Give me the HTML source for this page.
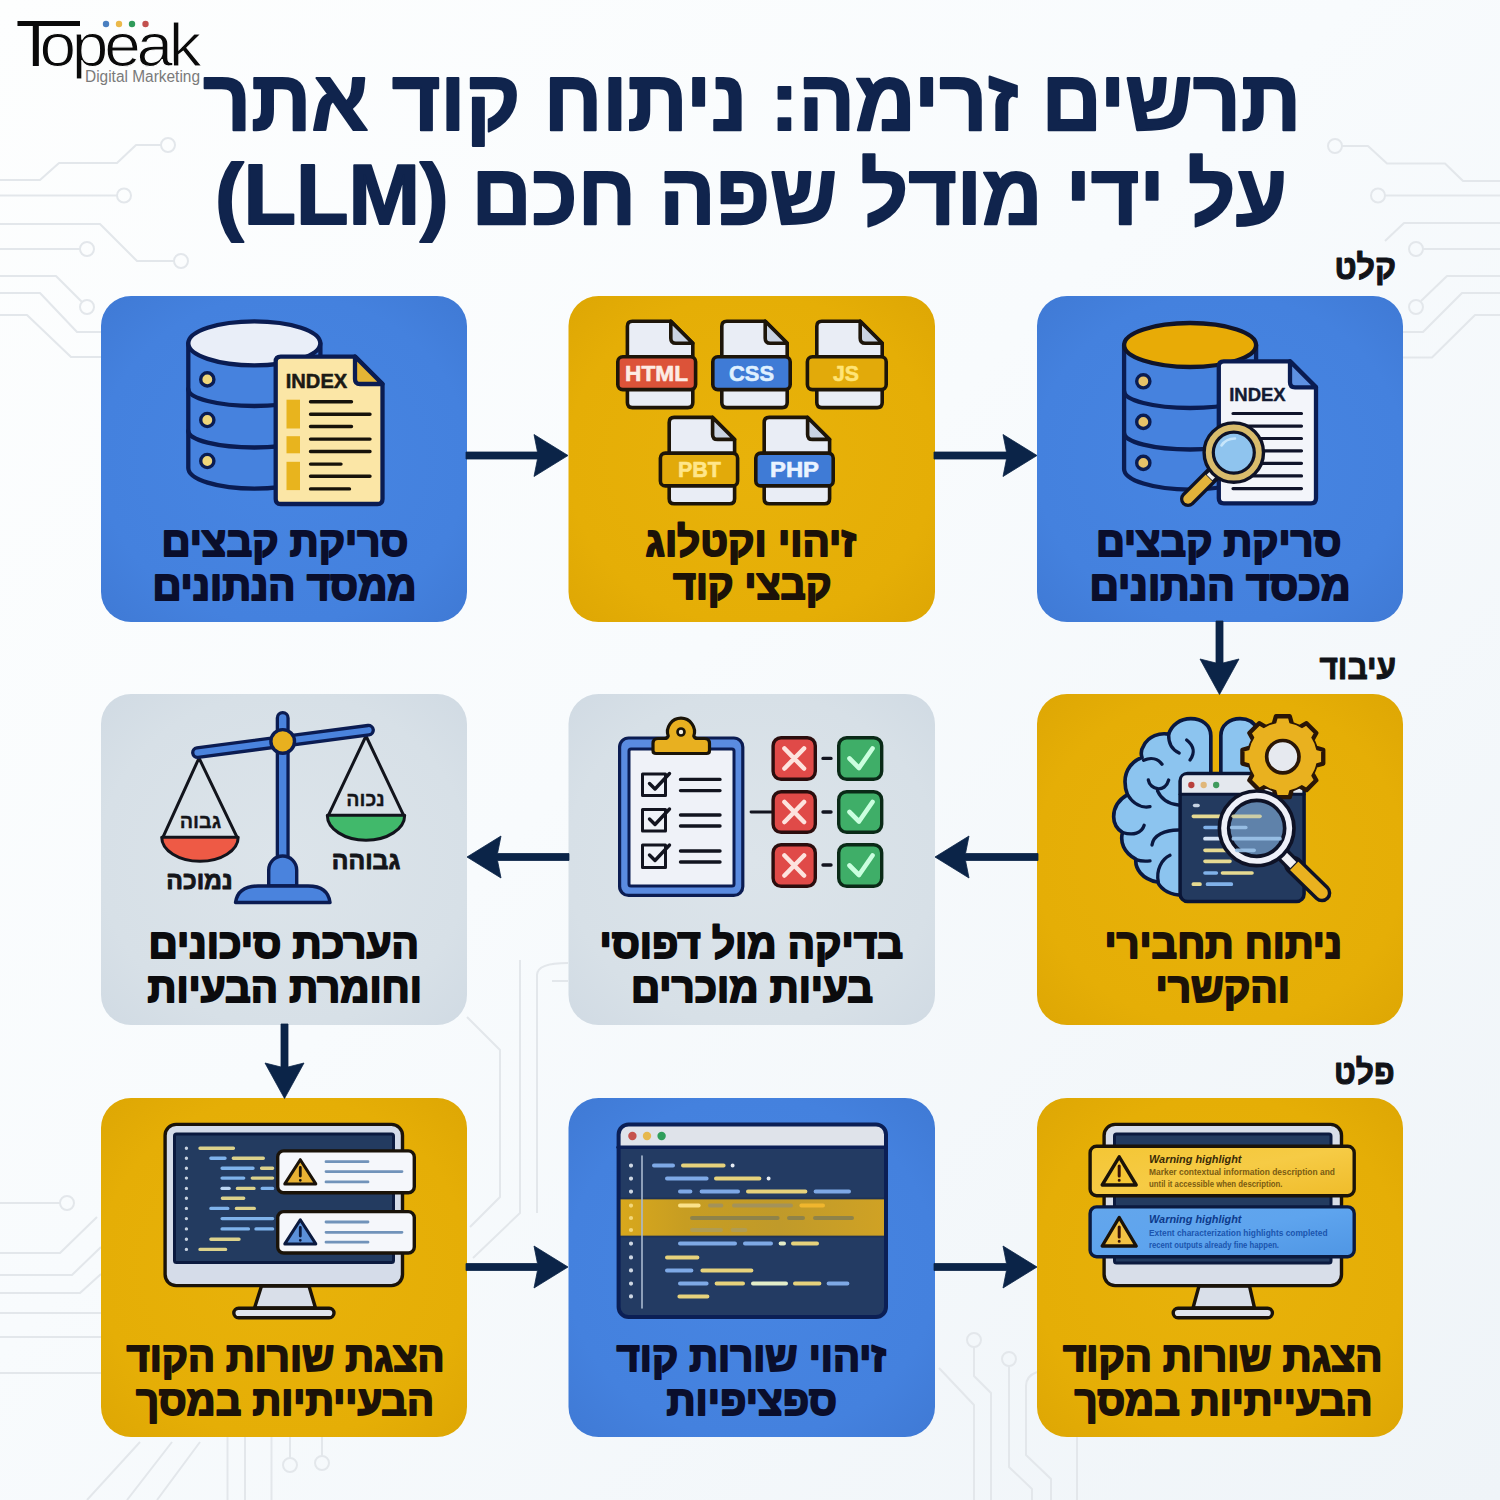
<!DOCTYPE html>
<html lang="he">
<head>
<meta charset="utf-8">
<title>תרשים זרימה: ניתוח קוד אתר על ידי מודל שפה חכם (LLM)</title>
<style>
html,body{margin:0;padding:0;background:#f4f8fb;}
body{width:1500px;height:1500px;overflow:hidden;font-family:"Liberation Sans",sans-serif;}
svg{display:block;}
svg text{font-family:"Liberation Sans",sans-serif;}
</style>
</head>
<body>
<svg width="1500" height="1500" viewBox="0 0 1500 1500">
<defs>
<linearGradient id="bgG" x1="0" y1="0" x2="1" y2="1">
<stop offset="0" stop-color="#fdfefe"/><stop offset="0.45" stop-color="#f8fbfd"/><stop offset="1" stop-color="#eff4f8"/>
</linearGradient>
</defs>
<rect width="1500" height="1500" fill="url(#bgG)"/>
<g fill="none" stroke="#e3e7eb" stroke-width="2" stroke-linejoin="round">
<path d="M0 180H40L59 163H117L136 145H161"/><circle cx="168" cy="145" r="7"/>
<path d="M0 195.500H117"/><circle cx="124" cy="195.500" r="7"/>
<path d="M0 224H100L137 261H174"/><circle cx="181" cy="261" r="7"/>
<path d="M0 249H80"/><circle cx="87" cy="249" r="7"/>
<path d="M0 276H56L82 302"/><circle cx="87" cy="307" r="7"/>
<path d="M0 293H40L77 332H101"/>
<path d="M0 315H27L71 357H101"/>
<path d="M1423 249H1500"/><circle cx="1416" cy="249" r="7"/>
<path d="M1421 301L1447 276H1500"/><circle cx="1416" cy="307" r="7"/>
<path d="M1403 332H1423L1462 293H1500"/>
<path d="M1403 357.500H1432L1475 315H1500"/>
<path d="M1342 146H1368L1387 163.500H1445L1463 181H1500"/>
<path d="M1385 241L1404 223H1500"/><circle cx="1335" cy="146" r="7"/>
<path d="M1385 195.500H1500"/><circle cx="1378" cy="195.500" r="7"/>
<path d="M0 1203H60"/><circle cx="67" cy="1203" r="7"/>
<path d="M0 1253H60L97 1217"/>
<path d="M0 1275H72L101 1247"/>
<path d="M0 1293H80L101 1274"/>
<path d="M0 1313H101M0 1337H101M0 1373H101"/>
<path d="M140 1442L87 1500M172 1442L127 1500M200 1442L157 1500M227.500 1437V1500M245 1437V1500M271.500 1437V1500"/>
<path d="M290 1437V1458"/><circle cx="290" cy="1465" r="7"/>
<path d="M322 1437V1456"/><circle cx="322" cy="1463" r="7"/>
<path d="M467 1017L500 1050V1197L470 1227"/>
<path d="M520 960V1213L473 1258"/>
<path d="M568 963Q537 963 537 975V1213"/>
<path d="M552 981H568"/>
<path d="M974 1347V1376L991 1393V1500"/><circle cx="974" cy="1340" r="7"/>
<path d="M1009 1366V1467L1032 1489V1500"/><circle cx="1009" cy="1359" r="7"/>
<path d="M939 1368L974 1405V1500"/>
<path d="M1037 1372Q1026 1376 1026 1386V1455L1051 1479V1500"/>
<path d="M1077 1437V1500"/>
</g>

<g id="logo">
<g fill="#0a0a0a" font-size="62">
<text x="39.500" y="66" letter-spacing="-4" textLength="158" lengthAdjust="spacingAndGlyphs" stroke="#fdfefe" stroke-width="1.100" paint-order="fill">opeak</text>
<text x="16" y="66" font-size="65">T</text>
</g>
<rect x="54" y="21" width="26" height="5" fill="#0a0a0a"/>
<circle cx="106" cy="24" r="3.200" fill="#4a7fc0"/><circle cx="119" cy="24" r="3.200" fill="#ebb94a"/><circle cx="132" cy="24" r="3.200" fill="#2f9b5a"/><circle cx="145.500" cy="24" r="3.200" fill="#c2514e"/>
<text x="85" y="81.500" font-size="16" fill="#7a7a7a" textLength="115" lengthAdjust="spacingAndGlyphs">Digital Marketing</text>
</g>
<g id="title">
<text x="752.0" y="129.80" font-size="86" font-weight="bold" fill="#10244d" stroke="#10244d" stroke-width="2.0" stroke-linejoin="round" direction="rtl" text-anchor="middle" textLength="1098.05" lengthAdjust="spacingAndGlyphs">תרשים זרימה: ניתוח קוד אתר</text>
<text x="879.25" y="224.30" font-size="86" font-weight="bold" fill="#10244d" stroke="#10244d" stroke-width="2.0" stroke-linejoin="round" direction="rtl" text-anchor="middle" textLength="815.6" lengthAdjust="spacingAndGlyphs">על ידי מודל שפה חכם</text>
<text x="331.75" y="224.30" font-size="86" font-weight="bold" fill="#10244d" stroke="#10244d" stroke-width="2.0" stroke-linejoin="round" direction="rtl" text-anchor="middle" textLength="233.68" lengthAdjust="spacingAndGlyphs">(LLM)</text>
</g>

<defs>
<radialGradient id="gB" cx="0.5" cy="0.5" r="0.72"><stop offset="0" stop-color="#4785e2"/><stop offset="0.7" stop-color="#4481de"/><stop offset="1" stop-color="#3f79d4"/></radialGradient>
<radialGradient id="gY" cx="0.5" cy="0.5" r="0.72"><stop offset="0" stop-color="#e8b20a"/><stop offset="0.7" stop-color="#e5ae06"/><stop offset="1" stop-color="#dda604"/></radialGradient>
<radialGradient id="gG" cx="0.5" cy="0.5" r="0.72"><stop offset="0" stop-color="#dce4ea"/><stop offset="0.7" stop-color="#d7e0e7"/><stop offset="1" stop-color="#d0dae3"/></radialGradient>
</defs>
<g id="cards">
<rect x="101" y="296" width="366" height="326" rx="30" fill="url(#gB)"/>
<rect x="568.500" y="296" width="366.500" height="326" rx="30" fill="url(#gY)"/>
<rect x="1037" y="296" width="366" height="326" rx="30" fill="url(#gB)"/>
<rect x="101" y="694" width="366" height="331" rx="30" fill="url(#gG)"/>
<rect x="568.500" y="694" width="366.500" height="331" rx="30" fill="url(#gG)"/>
<rect x="1037" y="694" width="366" height="331" rx="30" fill="url(#gY)"/>
<rect x="101" y="1098" width="366" height="339" rx="30" fill="url(#gY)"/>
<rect x="568.500" y="1098" width="366.500" height="339" rx="30" fill="url(#gB)"/>
<rect x="1037" y="1098" width="366" height="339" rx="30" fill="url(#gY)"/>
</g>

<g id="arrows" fill="#0b2448" stroke="#0b2448" stroke-width="0.8" stroke-linejoin="round">
<path d="M466 452.0H537.5L534 434.5L568 455.5L534 476.5L537.5 459.0H466Z"/>
<path d="M934 452.0H1006.5L1003 434.5L1037 455.5L1003 476.5L1006.5 459.0H934Z"/>
<path d="M1216.0 621V663.0L1200.0 659.0L1219.5 694.5L1239.0 659.0L1223.0 663.0V621Z"/>
<path d="M1038 853.5H965.5L969 836L935 857L969 878L965.5 860.5H1038Z"/>
<path d="M569 853.5H497.5L501 836L467 857L501 878L497.5 860.5H569Z"/>
<path d="M281.0 1024V1067.0L265.0 1063.0L284.5 1098.5L304.0 1063.0L288.0 1067.0V1024Z"/>
<path d="M466 1263.5H537.5L534 1246L568 1267L534 1288L537.5 1270.5H466Z"/>
<path d="M934 1263.5H1006.5L1003 1246L1037 1267L1003 1288L1006.5 1270.5H934Z"/>
</g>

<g id="icon1" stroke-linejoin="round" stroke-linecap="round" stroke="#0a1c52" stroke-width="4.300">
<path d="M188.300 343.300V468A66 20.700 0 0 0 320.400 468V343.300Z" fill="#4682de"/>
<path d="M188.300 389A66 17 0 0 0 320.400 389" fill="none"/>
<path d="M188.300 431A66 16.500 0 0 0 320.400 431" fill="none"/>
<ellipse cx="254.300" cy="343.300" rx="66" ry="22" fill="#e9eef8"/>
<g fill="#efd67a" stroke-width="3.400">
<circle cx="207.300" cy="379.400" r="6.600"/><circle cx="207.300" cy="420" r="6.600"/><circle cx="207.300" cy="461" r="6.600"/>
</g>
<path d="M280.700 356.600H355L382.500 384V499Q382.500 504 377.500 504H280.700Q275.700 504 275.700 499V361.600Q275.700 356.600 280.700 356.600Z" fill="#fbe6a6"/>
<path d="M355 356.600V379Q355 384 360 384H382.500Z" fill="#e4b535"/>
<g stroke="none" fill="#e8b41e">
<rect x="286.500" y="399.700" width="13.500" height="28.800"/><rect x="286.500" y="436.200" width="13.500" height="17.100"/><rect x="286.500" y="461.800" width="13.500" height="28.300"/>
</g>
<g stroke="#17120a" stroke-width="3.400" fill="none">
<path d="M310.500 401.700H351.500M310.500 414.200H370M310.500 426.500H351.500M310.500 439.100H370M310.500 451.500H370M310.500 464.100H341M310.500 476.300H370M310.500 488.900H349.500"/>
</g>
<text x="316.500" y="387.700" font-size="19.500" font-weight="bold" fill="#1b1a14" stroke="#1b1a14" stroke-width="0.5" text-anchor="middle" textLength="61.500" lengthAdjust="spacingAndGlyphs">INDEX</text>
</g>

<g id="icon2" stroke="#1d1509" stroke-width="3.600" stroke-linejoin="round">
<path d="M632.4 321.2H670.8L692.8 343.2V402.6Q692.8 407.6 687.8 407.6H632.4Q627.4 407.6 627.4 402.6V326.2Q627.4 321.2 632.4 321.2Z" fill="#e9edf5"/>
<path d="M670.8 321.2V338.2Q670.8 343.2 675.8 343.2H692.8Z" fill="#c9d3e2"/>
<rect x="617.8" y="356.8" width="77.8" height="32.8" rx="5" fill="#dc5339"/>
<text x="656.5" y="381.2" font-size="22.500" font-weight="bold" fill="#fdebe4" stroke="#fdebe4" stroke-width="0.6" text-anchor="middle" textLength="63.0" lengthAdjust="spacingAndGlyphs">HTML</text>
<path d="M726.8 321.2H765.2L787.2 343.2V402.6Q787.2 407.6 782.2 407.6H726.8Q721.8 407.6 721.8 402.6V326.2Q721.8 321.2 726.8 321.2Z" fill="#e9edf5"/>
<path d="M765.2 321.2V338.2Q765.2 343.2 770.2 343.2H787.2Z" fill="#c9d3e2"/>
<rect x="712.8" y="356.8" width="77.4" height="32.8" rx="5" fill="#3f7bd6"/>
<text x="751.5" y="381.2" font-size="22.500" font-weight="bold" fill="#dff0ff" stroke="#dff0ff" stroke-width="0.6" text-anchor="middle" textLength="45.0" lengthAdjust="spacingAndGlyphs">CSS</text>
<path d="M821.8 321.2H860.2L882.2 343.2V402.6Q882.2 407.6 877.2 407.6H821.8Q816.8 407.6 816.8 402.6V326.2Q816.8 321.2 821.8 321.2Z" fill="#e9edf5"/>
<path d="M860.2 321.2V338.2Q860.2 343.2 865.2 343.2H882.2Z" fill="#c9d3e2"/>
<rect x="807.4" y="356.8" width="78.8" height="32.8" rx="5" fill="#e2aa0a"/>
<text x="846.0" y="381.2" font-size="22.500" font-weight="bold" fill="#ffe476" stroke="#ffe476" stroke-width="0.6" text-anchor="middle" textLength="26.0" lengthAdjust="spacingAndGlyphs">JS</text>
<path d="M674.2 417.4H712.6L734.6 439.4V498.8Q734.6 503.8 729.6 503.8H674.2Q669.2 503.8 669.2 498.8V422.4Q669.2 417.4 674.2 417.4Z" fill="#e9edf5"/>
<path d="M712.6 417.4V434.4Q712.6 439.4 717.6 439.4H734.6Z" fill="#c9d3e2"/>
<rect x="660.4" y="453.1" width="77.2" height="32.8" rx="5" fill="#e2aa0a"/>
<text x="699.5" y="477.2" font-size="22.500" font-weight="bold" fill="#ffe68a" stroke="#ffe68a" stroke-width="0.6" text-anchor="middle" textLength="43.0" lengthAdjust="spacingAndGlyphs">PBT</text>
<path d="M769.2 417.4H807.6L829.6 439.4V498.8Q829.6 503.8 824.6 503.8H769.2Q764.2 503.8 764.2 498.8V422.4Q764.2 417.4 769.2 417.4Z" fill="#e9edf5"/>
<path d="M807.6 417.4V434.4Q807.6 439.4 812.6 439.4H829.6Z" fill="#c9d3e2"/>
<rect x="755.8" y="453.1" width="77.4" height="32.8" rx="5" fill="#3f7bd6"/>
<text x="794.5" y="477.2" font-size="22.500" font-weight="bold" fill="#eaf3ff" stroke="#eaf3ff" stroke-width="0.6" text-anchor="middle" textLength="49.0" lengthAdjust="spacingAndGlyphs">PHP</text>
</g>

<g id="icon3" stroke-linejoin="round" stroke-linecap="round" stroke="#0a1c52" stroke-width="4.300">
<path d="M1124.100 345V469A66 20.600 0 0 0 1256.100 469V345Z" fill="#4682de"/>
<path d="M1124.100 391A66 17 0 0 0 1256.100 391" fill="none"/>
<path d="M1124.100 433A66 16.500 0 0 0 1256.100 433" fill="none"/>
<ellipse cx="1190.100" cy="345" rx="66" ry="22" fill="#e8ab06" stroke="#10142a"/>
<g fill="#e6c268" stroke-width="3.400">
<circle cx="1143.300" cy="381.300" r="6.600"/><circle cx="1143.300" cy="421.900" r="6.600"/><circle cx="1143.300" cy="462.900" r="6.600"/>
</g>
<path d="M1223.800 361.300H1290L1316 387.300V498.300Q1316 503.300 1311 503.300H1223.800Q1218.800 503.300 1218.800 498.300V366.300Q1218.800 361.300 1223.800 361.300Z" fill="#f3f5fa"/>
<path d="M1290 361.300V382.300Q1290 387.300 1295 387.300H1316Z" fill="#5e91e2"/>
<g stroke="#10142a" stroke-width="3.200" fill="none">
<path d="M1233 413.500H1301.500M1233 426.100H1301.500M1233 438.500H1301.500M1233 450.800H1301.500M1233 463.300H1301.500M1233 475.900H1301.500M1233 488.600H1301.500"/>
</g>
<text x="1257.400" y="401.200" font-size="18" font-weight="bold" fill="#121a33" stroke="#121a33" stroke-width="0.4" text-anchor="middle" textLength="56.500" lengthAdjust="spacingAndGlyphs">INDEX</text>
<!-- magnifier -->
<path d="M1214 473L1188 499" stroke="#0e1226" stroke-width="16" fill="none"/>
<path d="M1214 473L1188 499" stroke="#e2b33a" stroke-width="9.500" fill="none"/>
<path d="M1216 471L1209 478" stroke="#0e1226" stroke-width="14" fill="none" stroke-linecap="butt"/>
<path d="M1216 471L1209.500 477.500" stroke="#f1f1ee" stroke-width="8" fill="none" stroke-linecap="butt"/>
<circle cx="1233.800" cy="452.600" r="29.700" fill="#d9bc6c" stroke="#0e1226" stroke-width="3.400"/>
<circle cx="1233.800" cy="452.600" r="20.500" fill="#8fc4ee" stroke="#0e1226" stroke-width="3.200"/>
<path d="M1221.500 445.500Q1226 438.500 1235 438.500" stroke="#c7e6fb" stroke-width="2.600" fill="none"/>
</g>

<g id="icon4" stroke-linejoin="round" stroke-linecap="round">
<!-- pans strings -->
<g stroke="#12141c" stroke-width="3" fill="none">
<path d="M199 758L163 837.200M199 758L237 837.200"/>
<path d="M366 736L328.500 815.200M366 736L403.500 815.200"/>
</g>
<path d="M161.700 837.200H238.200A38.250 24 0 0 1 161.700 837.200Z" fill="#ee5a45" stroke="#12141c" stroke-width="3"/>
<path d="M327.300 815.200H404.700A38.700 25 0 0 1 327.300 815.200Z" fill="#41b96b" stroke="#12141c" stroke-width="3"/>
<!-- post -->
<path d="M282.700 718V862" stroke="#0b1c52" stroke-width="14" fill="none"/>
<path d="M282.700 718V862" stroke="#4a83dd" stroke-width="7.400" fill="none"/>
<!-- beam -->
<path d="M197.500 752.600L368.500 730.200" stroke="#0b1c52" stroke-width="12.800" fill="none"/>
<path d="M197.500 752.600L368.500 730.200" stroke="#4a83dd" stroke-width="6.200" fill="none"/>
<circle cx="282.700" cy="741.400" r="11.800" fill="#e8b01f" stroke="#0b1c52" stroke-width="3.400"/>
<!-- base -->
<path d="M268.700 886V870A14 14 0 0 1 296.700 870V886Z" fill="#4a83dd" stroke="#0b1c52" stroke-width="3.400"/>
<path d="M235.500 902.500Q238 886 258 886H308Q328 886 330 902.500Z" fill="#4a83dd" stroke="#0b1c52" stroke-width="3.400"/>
<g font-weight="bold" fill="#14151a" stroke="none" direction="rtl" text-anchor="middle">
<text x="200.400" y="827.800" font-size="20" stroke="#14151a" stroke-width="0.3" textLength="41.500" lengthAdjust="spacingAndGlyphs">גבוה</text>
<text x="365.500" y="806.200" font-size="20" stroke="#14151a" stroke-width="0.3" textLength="38.500" lengthAdjust="spacingAndGlyphs">נכוה</text>
<text x="199.500" y="889.200" font-size="25.500" stroke="#14151a" stroke-width="0.9" stroke-linejoin="round" textLength="66.500" lengthAdjust="spacingAndGlyphs">נמוכה</text>
<text x="366" y="868.900" font-size="25.500" stroke="#14151a" stroke-width="0.9" stroke-linejoin="round" textLength="68.500" lengthAdjust="spacingAndGlyphs">גבוהה</text>
</g>
</g>

<g id="icon5" stroke-linejoin="round" stroke-linecap="round">
<rect x="619.600" y="738" width="123.200" height="157.400" rx="9" fill="#5a8be0" stroke="#0b1c52" stroke-width="3.200"/>
<rect x="629" y="749" width="105" height="137" rx="2" fill="#eff2f8" stroke="#0b1c52" stroke-width="3"/>
<!-- clip -->
<path d="M656 753.500Q653 753.500 653 750.500V743.500Q653 738.500 658 738.500H664.500Q667.500 738.500 668.200 736A13.500 13.500 0 1 1 693.800 736Q694.500 738.500 697.500 738.500H704.500Q709.500 738.500 709.500 743.500V750.500Q709.500 753.500 706.500 753.500Z" fill="#e8b020" stroke="#1a1408" stroke-width="3.200"/>
<circle cx="681" cy="732" r="3.500" fill="#f4efe2" stroke="#1a1408" stroke-width="2.600"/>
<!-- checkboxes -->
<g fill="none" stroke="#12141f" stroke-width="3">
<rect x="642.500" y="774" width="23" height="21.500"/><rect x="642.500" y="809.500" width="23" height="21.500"/><rect x="642.500" y="845" width="23" height="22.500"/>
</g>
<g fill="none" stroke="#12141f" stroke-width="3.400">
<path d="M649.500 783.500L655 789L669.500 773.500M649.500 819L655 824.500L669.500 809M649.500 855L655 860.500L669.500 845"/>
<path d="M680.500 779.400H720M680.500 790.600H720M680.500 815H720M680.500 826H720M680.500 851H720M680.500 862H720"/>
</g>
<path d="M751 812H772" stroke="#12141f" stroke-width="2.800" fill="none"/>
<g stroke="#2b0d0d" stroke-width="3.400" fill="#e04a48">
<rect x="773.100" y="737.700" width="42.200" height="41.600" rx="8"/><rect x="773.100" y="791.700" width="42.200" height="40.600" rx="8"/><rect x="773.100" y="844.700" width="42.200" height="41.600" rx="8"/>
</g>
<g stroke="#fde3de" stroke-width="4.600" fill="none">
<path d="M784.500 748.500L804 768.500M804 748.500L784.500 768.500M784.500 802L804 822M804 802L784.500 822M784.500 855.500L804 875.500M804 855.500L784.500 875.500"/>
</g>
<g stroke="#12141f" stroke-width="3.400" fill="none">
<path d="M823 758.400H831M823 812H831M823 865H831"/>
</g>
<g stroke="#0a2a17" stroke-width="3.400" fill="#3fae68">
<rect x="838.700" y="737.700" width="43" height="41.600" rx="8"/><rect x="838.700" y="791.700" width="43" height="40.600" rx="8"/><rect x="838.700" y="844.700" width="43" height="41.600" rx="8"/>
</g>
<g stroke="#caffdf" stroke-width="4.600" fill="none">
<path d="M849.500 758.500L859 768L872.500 748.500M849.500 812L859 821.500L872.500 802M849.500 865.500L859 875L872.500 855.500"/>
</g>
</g>

<g id="icon6" transform="translate(1100,700) scale(0.166667)" stroke-linejoin="round" stroke-linecap="round">
<!-- brain -->
<g stroke="#0a1840" stroke-width="22" fill="#8cc4ef">
<path d="M665 450V215C665 150 610 112 545 112C480 112 430 150 412 205C360 195 290 215 262 275C245 300 245 325 252 345C195 365 150 420 150 490C150 520 155 545 165 568C110 600 82 650 82 700C82 745 105 775 135 795C120 850 140 915 215 955C210 1010 250 1075 345 1092C370 1140 420 1170 500 1172L560 1172V450Z"/>
<path d="M725 450V215C725 150 780 112 840 112C885 112 925 135 945 175L945 450Z"/>
</g>
<g stroke="#0a1840" stroke-width="20" fill="none">
<path d="M412 205C410 260 435 300 475 318"/>
<path d="M520 240C565 275 570 320 540 360"/>
<path d="M262 362C310 340 350 355 372 385"/>
<path d="M290 480C300 540 390 560 412 480"/>
<path d="M345 545C370 600 420 625 470 630"/>
<path d="M165 568C200 625 250 650 300 640"/>
<path d="M135 795C200 815 250 800 265 752"/>
<path d="M312 870C320 810 390 780 470 780"/>
<path d="M215 958C245 968 275 968 300 965"/>
<path d="M350 1092C335 1020 370 955 420 932"/>
</g>
<!-- window -->
<rect x="480.500" y="440.500" width="744" height="769" rx="45" fill="#233a5f" stroke="#0a1535" stroke-width="21"/>
<path d="M491 565V480Q491 451 520 451H1185Q1214 451 1214 480V565Z" fill="#e4e8ee" stroke="none"/>
<path d="M481 565H1224" stroke="#0a1535" stroke-width="18" fill="none"/>
<circle cx="548" cy="510" r="19" fill="#b8403c"/><circle cx="622" cy="510" r="19" fill="#e0b77a"/><circle cx="697" cy="510" r="19" fill="#3f9b5e"/>
<g stroke-width="22" fill="none">
<path d="M568 633H588" stroke="#c7d3e3"/>
<path d="M560 698H960M630 902H925M630 968H780M735 1038H912M560 1105H600" stroke="#e6da92"/>
<path d="M630 765H875M630 1038H698M645 1105H788" stroke="#80b1e9"/>
<path d="M630 832H1080" stroke="#d5e3f4"/>
</g>
<!-- gear -->
<path d="M1151.4 143.4L1138.6 97.5L1055.4 97.5L1042.6 143.4L996.5 162.5L955.0 139.1L896.1 198.0L919.5 239.5L900.4 285.6L854.5 298.4L854.5 381.6L900.4 394.4L919.5 440.5L896.1 482.0L955.0 540.9L996.5 517.5L1042.6 536.6L1055.4 582.5L1138.6 582.5L1151.4 536.6L1197.5 517.5L1239.0 540.9L1297.9 482.0L1274.5 440.5L1293.6 394.4L1339.5 381.6L1339.5 298.4L1293.6 285.6L1274.5 239.5L1297.9 198.0L1239.0 139.1L1197.5 162.5Z" fill="#e9b11f" stroke="#2a1606" stroke-width="26" stroke-linejoin="round"/>
<circle cx="1097" cy="340" r="205" fill="#e9b11f" stroke="none"/>
<circle cx="1097" cy="340" r="97" fill="#e6e9ef" stroke="#2a1606" stroke-width="22"/>
<!-- magnifier -->
<path d="M1160 990L1332 1158" stroke="#0e1226" stroke-width="112" fill="none"/>
<path d="M1160 990L1332 1158" stroke="#e9b11f" stroke-width="70" fill="none"/>
<path d="M1095 925L1165 995" stroke="#0e1226" stroke-width="90" fill="none" stroke-linecap="butt"/>
<path d="M1095 925L1160 990" stroke="#f1f1f4" stroke-width="50" fill="none" stroke-linecap="butt"/>
<circle cx="940" cy="770" r="224" fill="#eef0f8" stroke="#0e1226" stroke-width="22"/>
<circle cx="940" cy="770" r="168" fill="#5f82aa" stroke="#0e1226" stroke-width="22"/>
<g stroke-width="22" fill="none" opacity="0.9">
<path d="M800 698H960" stroke="#d8d6a6"/>
<path d="M790 765H875M800 832H1080M820 902H925" stroke="#9cc4ea"/>
</g>
</g>

<g id="icon7" stroke-linejoin="round" stroke-linecap="round">
<path d="M261.500 1286L254.500 1308H315.500L309 1286Z" fill="#d9dfe9" stroke="#1a1309" stroke-width="3.400"/>
<rect x="233.800" y="1308.200" width="100.200" height="9.600" rx="4.800" fill="#dfe4ec" stroke="#1a1309" stroke-width="3.400"/>
<rect x="165.100" y="1124.400" width="237.400" height="161.200" rx="11" fill="#d5dce9" stroke="#1a1309" stroke-width="3.400"/>
<rect x="174.500" y="1134" width="219" height="128.500" rx="2" fill="#233b60" stroke="#0b1a3f" stroke-width="3"/>
<path d="M186.4 1148.3h0.01M186.4 1158.2h0.01M186.4 1168.2h0.01M186.4 1178.1h0.01M186.4 1188.4h0.01M186.4 1198.3h0.01M186.4 1208.4h0.01M186.4 1218.6h0.01M186.4 1228.9h0.01M186.4 1239.2h0.01M186.4 1249.4h0.01" stroke="#c6d0de" stroke-width="3.400" fill="none"/>
<g stroke-width="3.400" fill="none">
<path d="M200.0 1148.3H233.4M233.3 1158.2H263.3M261.6 1168.2H272.6M252.3 1178.1H272.6M237.4 1188.4H254.0M222.4 1198.3H243.7M236.4 1208.4H254.3M210.9 1239.2H239.0M200.0 1249.4H225.6" stroke="#dcd28c"/>
<path d="M210.9 1158.2H225.0M222.1 1168.2H253.0M222.1 1178.1H243.7M262.2 1188.4H272.6M210.9 1208.4H227.8M222.1 1218.6H272.6M222.1 1228.9H248.4M256.0 1228.9H272.6" stroke="#7fb3eb"/>
<path d="M222.1 1188.4H229.1" stroke="#bcd6f2"/>
</g>
<g fill="#f5f7fb" stroke="#1a1309" stroke-width="3.400">
<rect x="277.700" y="1150.900" width="136.600" height="41.800" rx="6"/>
<rect x="277.700" y="1211.600" width="136.600" height="41.400" rx="6"/>
</g>
<path d="M300.3 1159.7L315.8 1183.9H284.8Z" fill="#e9b233" stroke="#1a1309" stroke-width="3"/>
<path d="M300.3 1219.8L315.8 1243.9H284.8Z" fill="#5b90d9" stroke="#0b1a3f" stroke-width="3"/>
<g stroke="#1a1309" stroke-width="2.800" fill="none">
<path d="M300.300 1167.500V1176M300.300 1180.300v0.010"/>
</g>
<g stroke="#0b1a3f" stroke-width="2.800" fill="none">
<path d="M300.300 1227.500V1236M300.300 1240.300v0.010"/>
</g>
<g stroke="#7193ba" stroke-width="2.800" fill="none">
<path d="M326 1161.700H368M326 1171.600H402M326 1181.900H368M326 1222H368M326 1232.300H402M326 1242.200H368"/>
</g>
</g>

<g id="icon8" stroke-linejoin="round" stroke-linecap="round">
<defs>
<linearGradient id="hl8" x1="0" y1="0" x2="1" y2="0">
<stop offset="0" stop-color="#d9a81c"/><stop offset="0.25" stop-color="#c79d22"/><stop offset="0.6" stop-color="#c09a2a"/><stop offset="1" stop-color="#d0a224"/>
</linearGradient>
<clipPath id="cp8"><rect x="618.600" y="1124.400" width="267.400" height="192.600" rx="10"/></clipPath>
</defs>
<rect x="618.600" y="1124.400" width="267.400" height="192.600" rx="10" fill="#233b63"/>
<g clip-path="url(#cp8)">
<rect x="618" y="1124" width="269" height="23" fill="#dfe3ea"/>
<rect x="618" y="1199" width="269" height="37" fill="url(#hl8)"/>
<path d="M618 1198.500H887M618 1236.500H887" stroke="#1f3150" stroke-width="2" fill="none" opacity="0.7"/>
</g>
<path d="M618 1147.300H886" stroke="#0b1f55" stroke-width="3.400" fill="none"/>
<rect x="618.600" y="1124.400" width="267.400" height="192.600" rx="10" fill="none" stroke="#0b1f55" stroke-width="4"/>
<circle cx="632.400" cy="1136" r="4.200" fill="#c5524c"/><circle cx="647" cy="1136" r="4.200" fill="#e6b84e"/><circle cx="661.600" cy="1136" r="4.200" fill="#2f9e5b"/>
<path d="M642 1156V1308" stroke="#a9bad0" stroke-width="1.600" fill="none"/>
<path d="M631.0 1165.6h0.01M631.0 1178.6h0.01M631.0 1191.6h0.01M631.0 1243.6h0.01M631.0 1257.4h0.01M631.0 1270.4h0.01M631.0 1283.6h0.01M631.0 1296.4h0.01" stroke="#cdd6e2" stroke-width="4.200" fill="none"/>
<path d="M631.0 1205.6h0.01M631.0 1218.0h0.01M631.0 1230.0h0.01" stroke="#f3d77a" stroke-width="4.200" fill="none"/>
<g stroke-width="4" fill="none">
<path d="M654.0 1165.6H673.0M667.0 1178.6H706.6M680.0 1191.6H690.4M701.6 1191.6H738.0M815.6 1191.6H849.0M680.0 1243.6H735.0M745.0 1243.6H771.0M667.0 1270.4H691.4M680.0 1283.6H706.6M828.6 1283.6H847.4" stroke="#7ea9e6"/>
<path d="M683.0 1165.6H723.6M716.0 1178.6H759.4M748.0 1191.6H805.4M793.0 1243.6H817.0M667.0 1257.4H697.4M702.4 1270.4H751.4M716.6 1283.6H743.0M795.0 1283.6H819.4M679.4 1296.4H707.4" stroke="#e6d27c"/>
<path d="M732.6 1165.6H732.6M768.6 1178.6H768.6" stroke="#e6ecf4"/>
<path d="M680.0 1205.6H698.6" stroke="#fbe28a"/>
<path d="M710.0 1205.6H721.4M734.0 1205.6H791.0" stroke="#a3925a"/>
<path d="M801.4 1205.6H823.0" stroke="#f0b62e"/>
<path d="M692.0 1218.0H777.6M789.0 1218.0H803.0M815.0 1218.0H852.0" stroke="#8f8349"/>
<path d="M692.0 1230.0H721.0M732.6 1230.0H745.4" stroke="#b09c52"/>
<path d="M780.6 1243.6H784.0M753.0 1283.6H786.0" stroke="#e3edc9"/>
</g>
</g>

<g id="icon9" stroke-linejoin="round" stroke-linecap="round">
<defs>
<linearGradient id="by9" x1="0" y1="0" x2="1" y2="1">
<stop offset="0" stop-color="#f4c634"/><stop offset="0.5" stop-color="#f6cb45"/><stop offset="1" stop-color="#efbc2a"/>
</linearGradient>
<linearGradient id="bb9" x1="0" y1="0" x2="1" y2="1">
<stop offset="0" stop-color="#63a6ec"/><stop offset="0.5" stop-color="#5ea4ee"/><stop offset="1" stop-color="#4f96e4"/>
</linearGradient>
</defs>
<path d="M1199 1286L1193 1308H1254.500L1249.500 1286Z" fill="#d9dfe9" stroke="#1a1309" stroke-width="3.400"/>
<rect x="1173.200" y="1308.200" width="99.200" height="9.600" rx="4.800" fill="#dfe4ec" stroke="#1a1309" stroke-width="3.400"/>
<rect x="1104.100" y="1124.400" width="237.400" height="161.200" rx="11" fill="#d8dee9" stroke="#1a1309" stroke-width="3.400"/>
<rect x="1114.500" y="1134" width="216.500" height="129" rx="2" fill="#233b60" stroke="#0b1a3f" stroke-width="3"/>
<rect x="1090.100" y="1146.200" width="264.100" height="49.500" rx="6.500" fill="url(#by9)" stroke="#1a1309" stroke-width="3.400"/>
<rect x="1090.100" y="1206.900" width="264.100" height="49.800" rx="6.500" fill="url(#bb9)" stroke="#0b1a3f" stroke-width="3.400"/>
<path d="M1119.200 1156.800L1136.200 1185H1102.200Z" fill="#f4c634" stroke="#1a1309" stroke-width="3.400"/>
<path d="M1119.200 1217.500L1136.200 1246H1102.200Z" fill="#f2c244" stroke="#1a1309" stroke-width="3.400"/>
<g stroke="#3a1206" stroke-width="3" fill="none">
<path d="M1119.200 1166V1176M1119.200 1180.200v0.010M1119.200 1227V1237M1119.200 1241.200v0.010"/>
</g>
<g stroke="none">
<text x="1149" y="1162.500" font-size="11.500" font-weight="bold" font-style="italic" fill="#3b2b06" textLength="92.500" lengthAdjust="spacingAndGlyphs">Warning highlight</text>
<text x="1149" y="1175" font-size="8.600" font-weight="bold" fill="#7a5b12" textLength="186" lengthAdjust="spacingAndGlyphs">Marker contextual information description and</text>
<text x="1149" y="1186.800" font-size="8.600" font-weight="bold" fill="#7a5b12" textLength="133.500" lengthAdjust="spacingAndGlyphs">until it accessible when description.</text>
<text x="1149" y="1223.200" font-size="11.500" font-weight="bold" font-style="italic" fill="#0c3a8c" textLength="92.500" lengthAdjust="spacingAndGlyphs">Warning highlight</text>
<text x="1149" y="1235.800" font-size="8.600" font-weight="bold" fill="#1b55ae" textLength="178.500" lengthAdjust="spacingAndGlyphs">Extent characterization highlights completed</text>
<text x="1149" y="1247.600" font-size="8.600" font-weight="bold" fill="#1b55ae" textLength="130" lengthAdjust="spacingAndGlyphs">recent outputs already fine happen.</text>
</g>
</g>

<g>
<text x="1365.25" y="279.45" font-size="34" font-weight="bold" fill="#111318" stroke="#111318" stroke-width="1.1" stroke-linejoin="round" direction="rtl" text-anchor="middle" textLength="61.64" lengthAdjust="spacingAndGlyphs">קלט</text>
<text x="1357.75" y="678.95" font-size="34" font-weight="bold" fill="#111318" stroke="#111318" stroke-width="1.1" stroke-linejoin="round" direction="rtl" text-anchor="middle" textLength="76.52" lengthAdjust="spacingAndGlyphs">עיבוד</text>
<text x="1364.25" y="1084.45" font-size="34" font-weight="bold" fill="#111318" stroke="#111318" stroke-width="1.1" stroke-linejoin="round" direction="rtl" text-anchor="middle" textLength="60.65" lengthAdjust="spacingAndGlyphs">פלט</text>
<text x="285.0" y="555.95" font-size="41" font-weight="bold" fill="#0a0e2c" stroke="#0a0e2c" stroke-width="1.9" stroke-linejoin="round" direction="rtl" text-anchor="middle" textLength="247.05" lengthAdjust="spacingAndGlyphs">סריקת קבצים</text>
<text x="284.5" y="599.55" font-size="41" font-weight="bold" fill="#0a0e2c" stroke="#0a0e2c" stroke-width="1.9" stroke-linejoin="round" direction="rtl" text-anchor="middle" textLength="264.1" lengthAdjust="spacingAndGlyphs">ממסד הנתונים</text>
<text x="750.75" y="555.95" font-size="41" font-weight="bold" fill="#1c1208" stroke="#1c1208" stroke-width="1.9" stroke-linejoin="round" direction="rtl" text-anchor="middle" textLength="210.5" lengthAdjust="spacingAndGlyphs">זיהוי וקטלוג</text>
<text x="752.25" y="599.25" font-size="41" font-weight="bold" fill="#1c1208" stroke="#1c1208" stroke-width="1.9" stroke-linejoin="round" direction="rtl" text-anchor="middle" textLength="158.5" lengthAdjust="spacingAndGlyphs">קבצי קוד</text>
<text x="1218.75" y="555.95" font-size="41" font-weight="bold" fill="#0a0e2c" stroke="#0a0e2c" stroke-width="1.9" stroke-linejoin="round" direction="rtl" text-anchor="middle" textLength="245.55" lengthAdjust="spacingAndGlyphs">סריקת קבצים</text>
<text x="1220.0" y="599.55" font-size="41" font-weight="bold" fill="#0a0e2c" stroke="#0a0e2c" stroke-width="1.9" stroke-linejoin="round" direction="rtl" text-anchor="middle" textLength="261.08" lengthAdjust="spacingAndGlyphs">מכסד הנתונים</text>
<text x="283.75" y="958.35" font-size="41" font-weight="bold" fill="#0b0b0d" stroke="#0b0b0d" stroke-width="1.9" stroke-linejoin="round" direction="rtl" text-anchor="middle" textLength="270.59" lengthAdjust="spacingAndGlyphs">הערכת סיכונים</text>
<text x="284.75" y="1002.05" font-size="41" font-weight="bold" fill="#0b0b0d" stroke="#0b0b0d" stroke-width="1.9" stroke-linejoin="round" direction="rtl" text-anchor="middle" textLength="274.53" lengthAdjust="spacingAndGlyphs">וחומרת הבעיות</text>
<text x="751.25" y="958.35" font-size="41" font-weight="bold" fill="#0b0b0d" stroke="#0b0b0d" stroke-width="1.9" stroke-linejoin="round" direction="rtl" text-anchor="middle" textLength="303.54" lengthAdjust="spacingAndGlyphs">בדיקה מול דפוסי</text>
<text x="752.0" y="1002.05" font-size="41" font-weight="bold" fill="#0b0b0d" stroke="#0b0b0d" stroke-width="1.9" stroke-linejoin="round" direction="rtl" text-anchor="middle" textLength="242.04" lengthAdjust="spacingAndGlyphs">בעיות מוכרים</text>
<text x="1223.25" y="958.35" font-size="41" font-weight="bold" fill="#1c1208" stroke="#1c1208" stroke-width="1.9" stroke-linejoin="round" direction="rtl" text-anchor="middle" textLength="237.58" lengthAdjust="spacingAndGlyphs">ניתוח תחבירי</text>
<text x="1222.75" y="1002.05" font-size="41" font-weight="bold" fill="#1c1208" stroke="#1c1208" stroke-width="1.9" stroke-linejoin="round" direction="rtl" text-anchor="middle" textLength="134.73" lengthAdjust="spacingAndGlyphs">והקשרי</text>
<text x="285.5" y="1370.95" font-size="41" font-weight="bold" fill="#1c1208" stroke="#1c1208" stroke-width="1.9" stroke-linejoin="round" direction="rtl" text-anchor="middle" textLength="318.02" lengthAdjust="spacingAndGlyphs">הצגת שורות הקוד</text>
<text x="285.0" y="1414.55" font-size="41" font-weight="bold" fill="#1c1208" stroke="#1c1208" stroke-width="1.9" stroke-linejoin="round" direction="rtl" text-anchor="middle" textLength="298.01" lengthAdjust="spacingAndGlyphs">הבעייתיות במסך</text>
<text x="751.25" y="1370.95" font-size="41" font-weight="bold" fill="#0a0e2c" stroke="#0a0e2c" stroke-width="1.9" stroke-linejoin="round" direction="rtl" text-anchor="middle" textLength="269.5" lengthAdjust="spacingAndGlyphs">זיהוי שורות קוד</text>
<text x="751.75" y="1415.05" font-size="41" font-weight="bold" fill="#0a0e2c" stroke="#0a0e2c" stroke-width="1.9" stroke-linejoin="round" direction="rtl" text-anchor="middle" textLength="170.52" lengthAdjust="spacingAndGlyphs">ספציפיות</text>
<text x="1222.75" y="1370.95" font-size="41" font-weight="bold" fill="#1c1208" stroke="#1c1208" stroke-width="1.9" stroke-linejoin="round" direction="rtl" text-anchor="middle" textLength="319.51" lengthAdjust="spacingAndGlyphs">הצגת שורות הקוד</text>
<text x="1223.5" y="1414.55" font-size="41" font-weight="bold" fill="#1c1208" stroke="#1c1208" stroke-width="1.9" stroke-linejoin="round" direction="rtl" text-anchor="middle" textLength="298.01" lengthAdjust="spacingAndGlyphs">הבעייתיות במסך</text>
</g>

</svg>
</body>
</html>
